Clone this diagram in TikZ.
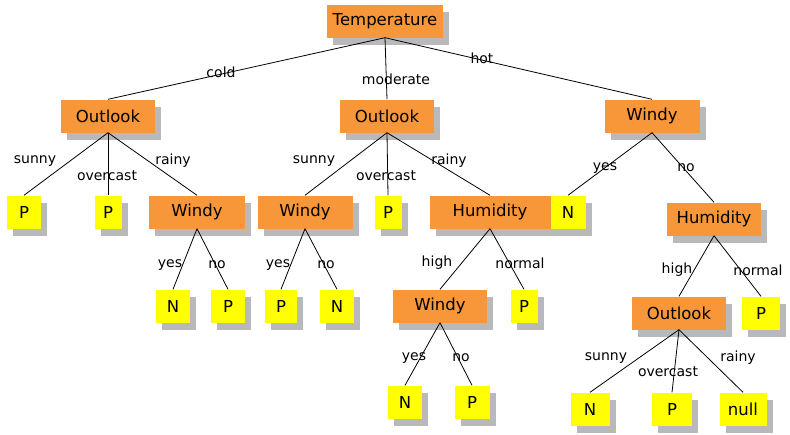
\documentclass[tikz,border=0pt]{standalone}
\usepackage{fontspec}
\setmainfont{DejaVu Sans}
\usetikzlibrary{shadows}
\definecolor{org}{RGB}{248,150,58}
\definecolor{yel}{RGB}{255,255,0}
\tikzset{
  box/.style={inner sep=0pt, minimum height=33pt, font=\fontsize{16.5}{18}\selectfont,
    drop shadow={shadow xshift=6pt, shadow yshift=-7pt, fill=gray!55, opacity=1}},
  onode/.style={box, fill=org},
  ynode/.style={box, fill=yel},
  lbl/.style={font=\fontsize{14}{16}\selectfont, inner sep=0pt},
  edge/.style={draw=black, line width=0.8pt}
}
\begin{document}
\begin{tikzpicture}[x=1pt,y=-1pt]
\useasboundingbox (0,0) rectangle (790,434);
% level 0
\node[onode, minimum width=116pt] (T) at (385,21) {Temperature};
% level 1
\node[onode, minimum width=94pt] (O1) at (108,116) {Outlook};
\node[onode, minimum width=94pt] (O2) at (387,116) {Outlook};
\node[onode, minimum width=95pt] (W3) at (652,116) {Windy};
% level 2
\node[ynode, minimum width=34pt] (P11) at (24,212) {P};
\node[ynode, minimum width=27pt] (P12) at (108,212) {P};
\node[onode, minimum width=96pt] (W13) at (197,212) {Windy};
\node[onode, minimum width=95pt] (W21) at (305,212) {Windy};
\node[ynode, minimum width=27pt] (P22) at (388,212) {P};
\node[onode, minimum width=121pt] (H23) at (490,212) {Humidity};
\node[ynode, minimum width=35pt] (N31) at (568,212) {N};
\node[onode, minimum width=94pt] (H32) at (714,219) {Humidity};
% level 3
\node[ynode, minimum width=34pt] (N131) at (173,306) {N};
\node[ynode, minimum width=34pt] (P132) at (228,306) {P};
\node[ynode, minimum width=32pt] (P211) at (281,306) {P};
\node[ynode, minimum width=34pt] (N212) at (337,306) {N};
\node[onode, minimum width=94pt] (W231) at (440,306) {Windy};
\node[ynode, minimum width=27pt] (P232) at (524,306) {P};
\node[onode, minimum width=94pt] (O321) at (679,313) {Outlook};
\node[ynode, minimum width=38pt] (P322) at (761,313) {P};
% level 4
\node[ynode, minimum width=34pt] (N2311) at (405,402) {N};
\node[ynode, minimum width=35pt] (P2312) at (472,402) {P};
\node[ynode, minimum width=39pt] (N3211) at (590,409) {N};
\node[ynode, minimum width=40pt] (P3212) at (672,409) {P};
\node[ynode, minimum width=47pt] (X3213) at (743,409) {null};
% edges
\draw[edge] (T.south) -- (O1.north);
\draw[edge] (T.south) -- (O2.north);
\draw[edge] (T.south) -- (W3.north);
\draw[edge] (O1.south) -- (P11.north);
\draw[edge] (O1.south) -- (P12.north);
\draw[edge] (O1.south) -- (W13.north);
\draw[edge] (W13.south) -- (N131.north);
\draw[edge] (W13.south) -- (P132.north);
\draw[edge] (O2.south) -- (W21.north);
\draw[edge] (O2.south) -- (P22.north);
\draw[edge] (O2.south) -- (H23.north);
\draw[edge] (W21.south) -- (P211.north);
\draw[edge] (W21.south) -- (N212.north);
\draw[edge] (H23.south) -- (W231.north);
\draw[edge] (H23.south) -- (P232.north);
\draw[edge] (W231.south) -- (N2311.north);
\draw[edge] (W231.south) -- (P2312.north);
\draw[edge] (W3.south) -- (N31.north);
\draw[edge] (W3.south) -- (H32.north);
\draw[edge] (H32.south) -- (O321.north);
\draw[edge] (H32.south) -- (P322.north);
\draw[edge] (O321.south) -- (N3211.north);
\draw[edge] (O321.south) -- (P3212.north);
\draw[edge] (O321.south) -- (X3213.north);
% labels
\node[lbl] (lcold) at (221,72) {cold};
\node[lbl] (lmod) at (396,79) {moderate};
\node[lbl] (lhot) at (482,58) {hot};
\node[lbl] (l1a) at (35,161) {sunny};
\node[lbl] (l1b) at (107,176) {overcast};
\node[lbl] (l1c) at (173,161) {rainy};
\node[lbl] (l13a) at (170,265) {yes};
\node[lbl] (l13b) at (217,265) {no};
\node[lbl] (l2a) at (314,161) {sunny};
\node[lbl] (l2b) at (386,176) {overcast};
\node[lbl] (l2c) at (449,161) {rainy};
\node[lbl] (l21a) at (278,265) {yes};
\node[lbl] (l21b) at (326,265) {no};
\node[lbl] (l23a) at (437,263) {high};
\node[lbl] (l23b) at (520,263) {normal};
\node[lbl] (l231a) at (414,358) {yes};
\node[lbl] (l231b) at (461,358) {no};
\node[lbl] (l3a) at (605,168) {yes};
\node[lbl] (l3b) at (686,168) {no};
\node[lbl] (l32a) at (677,270) {high};
\node[lbl] (l32b) at (758,270) {normal};
\node[lbl] (l321a) at (606,358) {sunny};
\node[lbl] (l321b) at (668,372) {overcast};
\node[lbl] (l321c) at (738,358) {rainy};
\end{tikzpicture}
\end{document}
